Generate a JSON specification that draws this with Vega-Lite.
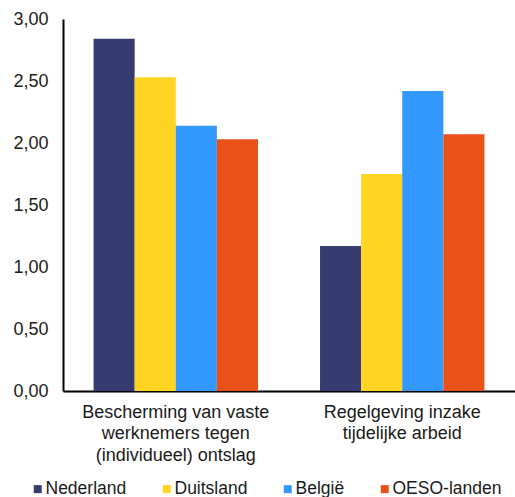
{
  "$schema": "https://vega.github.io/schema/vega-lite/v6.json",
  "width": 452,
  "height": 372,
  "autosize": "none",
  "padding": {"left": 63, "top": 19, "right": 0, "bottom": 106},
  "background": "white",
  "config": {
    "view": {"stroke": null},
    "font": "Liberation Sans",
    "axis": {"labelFont": "Liberation Sans", "labelColor": "#1a1a1a", "grid": false, "ticks": false, "domainColor": "#000000", "domainWidth": 2}
  },
  "data": {
    "values": [
      {"categorie": "Bescherming van vaste|werknemers tegen|(individueel) ontslag", "land": "Nederland", "waarde": 2.84},
      {"categorie": "Bescherming van vaste|werknemers tegen|(individueel) ontslag", "land": "Duitsland", "waarde": 2.53},
      {"categorie": "Bescherming van vaste|werknemers tegen|(individueel) ontslag", "land": "België", "waarde": 2.14},
      {"categorie": "Bescherming van vaste|werknemers tegen|(individueel) ontslag", "land": "OESO-landen", "waarde": 2.03},
      {"categorie": "Regelgeving inzake|tijdelijke arbeid", "land": "Nederland", "waarde": 1.17},
      {"categorie": "Regelgeving inzake|tijdelijke arbeid", "land": "Duitsland", "waarde": 1.75},
      {"categorie": "Regelgeving inzake|tijdelijke arbeid", "land": "België", "waarde": 2.42},
      {"categorie": "Regelgeving inzake|tijdelijke arbeid", "land": "OESO-landen", "waarde": 2.07}
    ]
  },
  "mark": {"type": "bar"},
  "encoding": {
    "x": {
      "field": "categorie", "type": "nominal", "sort": null,
      "scale": {"paddingInner": 0.274, "paddingOuter": 0.135},
      "axis": {"title": null, "labelAngle": 0, "labelFontSize": 18, "labelLineHeight": 21.5, "labelPadding": 12, "labelExpr": "split(datum.label, '|')", "labelLimit": 300}
    },
    "xOffset": {"field": "land", "type": "nominal", "sort": ["Nederland", "Duitsland", "België", "OESO-landen"], "scale": {"paddingInner": 0, "paddingOuter": 0}},
    "y": {
      "field": "waarde", "type": "quantitative",
      "scale": {"domain": [0, 3], "nice": false},
      "axis": {"title": null, "values": [0, 0.5, 1, 1.5, 2, 2.5, 3], "labelFontSize": 18, "labelPadding": 15, "labelExpr": "replace(format(datum.value, '.2f'), '.', ',')"}
    },
    "color": {
      "field": "land", "type": "nominal", "sort": ["Nederland", "Duitsland", "België", "OESO-landen"],
      "scale": {"domain": ["Nederland", "Duitsland", "België", "OESO-landen"], "range": ["#363c70", "#ffd422", "#3399ff", "#e85118"]},
      "legend": {
        "title": null, "orient": "none", "direction": "horizontal", "columns": 4,
        "legendX": -34, "legendY": 461,
        "symbolType": "square", "symbolSize": 64, "symbolStrokeWidth": 0,
        "labelFontSize": 17.5, "labelColor": "#1a1a1a", "labelFont": "Liberation Sans", "labelLimit": 200,
        "columnPadding": 31, "labelOffset": -1
      }
    }
  }
}
